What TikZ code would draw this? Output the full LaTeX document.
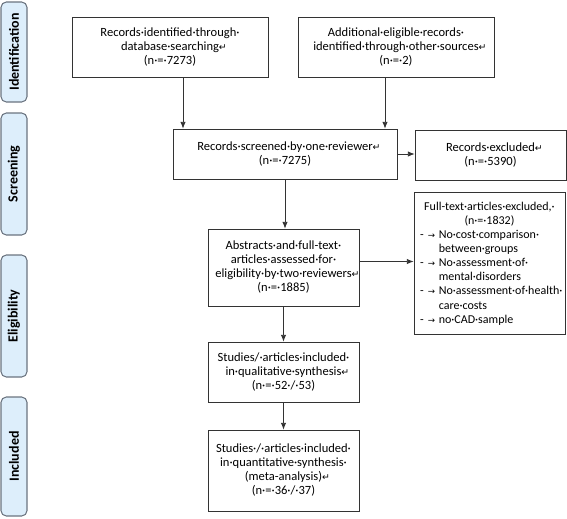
\documentclass[tikz,border=0pt]{standalone}
\usepackage{fontspec}
\setmainfont{Carlito}
\newfontfamily\symfont{DejaVu Sans}
\usetikzlibrary{arrows.meta,positioning}
\definecolor{stagefill}{HTML}{DDEEFB}
\definecolor{stageedge}{HTML}{6B7480}
\definecolor{lineg}{HTML}{333333}
\newcommand\ret{\rlap{{\symfont\fontsize{7pt}{7pt}\selectfont ↵}}}
\newcommand\ftitem[1]{\makebox[14pt][l]{-\hspace{3pt}{\symfont\fontsize{6.5pt}{6.5pt}\selectfont →}}#1}

\begin{document}
\begin{tikzpicture}[x=0.75pt,y=-0.75pt,>={Latex[length=5pt,width=4pt]},font=\fontsize{9.4pt}{10.5pt}\selectfont]

\tikzset{
box/.style={
    draw=lineg,
    line width=0.6pt,
    fill=white,
    align=center,
    inner sep=2pt
},
stage/.style={
    draw=stageedge,
    line width=0.8pt,
    fill=stagefill,
    rounded corners=4pt,
    rotate=90,
    minimum height=19.5pt,
    inner sep=0pt,
    font=\fontsize{10.5pt}{12pt}\selectfont\bfseries
},
a/.style={->,line width=0.6pt,color=lineg}
}

\useasboundingbox (0,0) rectangle (567,518);

% stages on the left
\node[stage,minimum width=75pt] (ident) at (14,52) {Identification};
\node[stage,minimum width=91.5pt] (scr) at (14,174) {Screening};
\node[stage,minimum width=91.5pt] (elig) at (14,316) {Eligibility};
\node[stage,minimum width=89.25pt] (incl) at (14,456.5) {Included};

% flow boxes
\node[box,minimum width=147pt,minimum height=45pt] (found) at (170,47) {Records·identified·through·\\database·searching\ret\\(n·=·7273)};
\node[box,minimum width=147pt,minimum height=45pt] (other) at (396,47) {Additional·eligible·records·\\identified·through·other·sources\ret\\(n·=·2)};
\node[box,minimum width=168pt,minimum height=37.5pt] (screen) at (285,154) {Records·screened·by·one·reviewer\ret\\(n·=·7275)};
\node[box,minimum width=113.25pt,minimum height=37.5pt] (excl) at (490.5,155) {Records·excluded\ret\\(n·=·5390)};
\node[box,minimum width=113.25pt,minimum height=57.75pt] (assess) at (283.5,267.5) {Abstracts·and·full-text·\\articles·assessed·for·\\eligibility·by·two·reviewers\ret\\(n·=·1885)};
\node[box,minimum width=113.25pt,minimum height=106.5pt,align=left,text width=104pt,inner xsep=4.6pt,
      font=\fontsize{9pt}{10.6pt}\selectfont] (ftexcl) at (489.5,263.5) {%
\makebox[\hsize]{Full-text·articles·excluded,·}\\
\makebox[\hsize]{(n·=·1832)}\\
\ftitem{No·cost·comparison·}\\
\hspace*{14pt}between·groups\\
\ftitem{No·assessment·of·}\\
\hspace*{14pt}mental·disorders\\
\ftitem{No·assessment·of·health·}\\
\hspace*{14pt}care·costs\\
\ftitem{no·CAD·sample}};
\node[box,minimum width=113.25pt,minimum height=45pt] (qual) at (283.5,372) {Studies/·articles·included·\\in·qualitative·synthesis\ret\\(n·=·52·/·53)};
\node[box,minimum width=113.25pt,minimum height=60.75pt] (quant) at (283.5,470.5) {Studies·/·articles·included·\\in·quantitative·synthesis·\\(meta-analysis)\ret\\(n·=·36·/·37)};

% connectors
\draw[a] ([xshift=9.75pt]found.south) -- ([xshift=9.75pt]found.south |- screen.north);
\draw[a] ([xshift=-8.25pt]other.south) -- ([xshift=-8.25pt]other.south |- screen.north);
\draw[a] (screen.east) -- (screen.east -| excl.west);
\draw[a] (screen.south) -- (screen.south |- assess.north);
\draw[a] ([yshift=4.5pt]assess.east) -- ([yshift=4.5pt]assess.east -| ftexcl.west);
\draw[a] (assess.south) -- (qual.north);
\draw[a] (qual.south) -- (quant.north);

\end{tikzpicture}
\end{document}
